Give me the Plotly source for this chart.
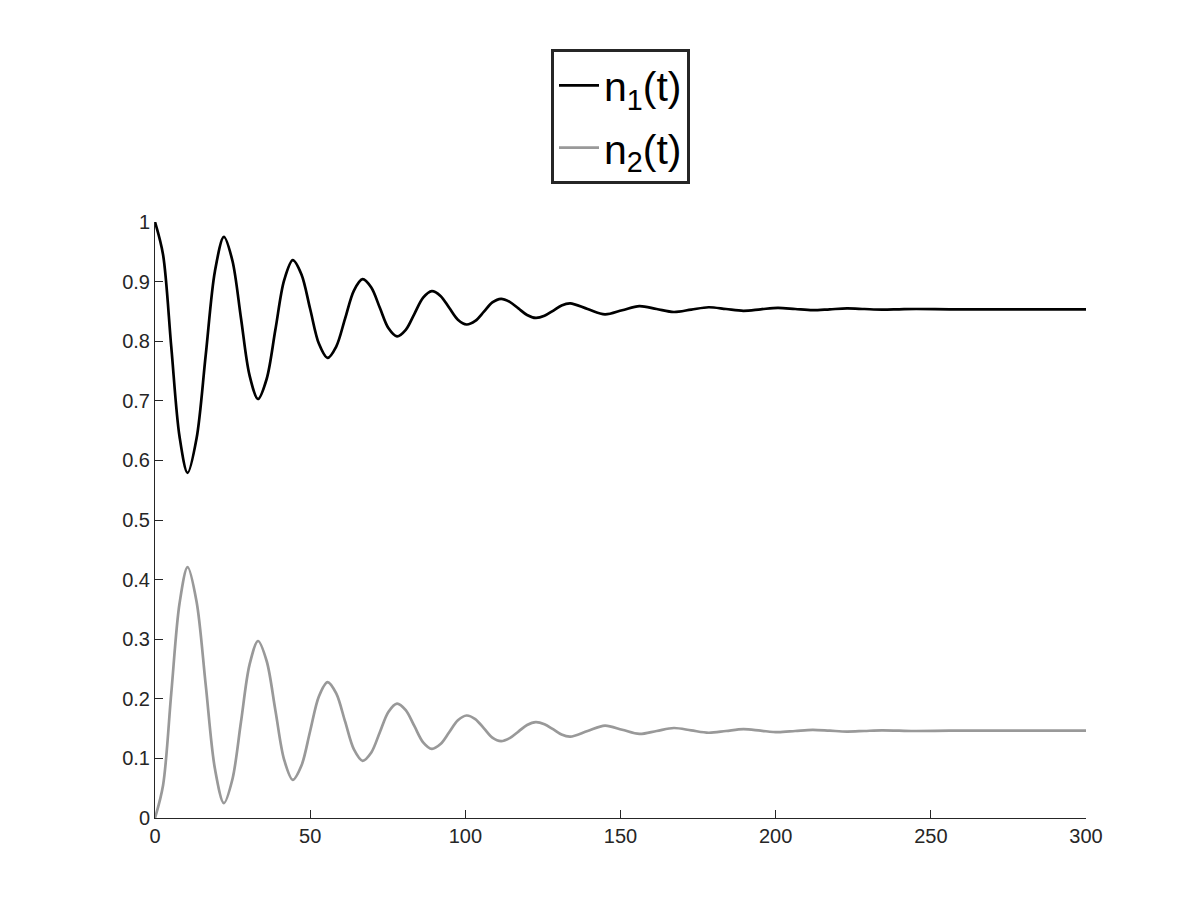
import plotly.graph_objects as go

# values (extrema, crossings and shoulders of the damped oscillation)
t = [0, 2.6, 5.25, 7.9, 10.5,
     13.4, 16.35, 19.3, 22.2,
     24.95, 27.7, 30.45, 33.2,
     36.0, 38.8, 41.6, 44.4,
     47.2, 50.0, 52.8, 55.6,
     58.4, 61.25, 64.1, 66.9,
     69.7, 72.45, 75.2, 78.0,
     80.8, 83.6, 86.4, 89.2,
     92.0, 94.8, 97.6, 100.4,
     103.2, 106.0, 108.7, 111.5,
     114.3, 117.1, 119.9, 122.7,
     125.5, 128.25, 131.0, 133.8,
     139.4, 145.0, 150.55, 156.1, 161.65, 167.2, 172.8, 178.4, 184.0, 189.6,
     195.15, 200.7, 206.3, 211.9, 217.45, 223.0, 228.6, 234.2, 239.75, 245.3,
     256, 267, 280, 300]

n1 = [1.0, 0.945, 0.790, 0.640, 0.579,
      0.637, 0.777, 0.917, 0.975,
      0.935, 0.839, 0.743, 0.703,
      0.737, 0.8195, 0.902, 0.936,
      0.912, 0.854, 0.796, 0.772,
      0.791, 0.838, 0.885, 0.904,
      0.890, 0.856, 0.822, 0.808,
      0.819, 0.846, 0.873, 0.884,
      0.876, 0.856, 0.836, 0.828,
      0.834, 0.8495, 0.865, 0.871,
      0.866, 0.855, 0.844, 0.839,
      0.8426, 0.851, 0.860, 0.8635,
      0.854, 0.845, 0.852, 0.859, 0.854, 0.849, 0.853, 0.857, 0.854, 0.851,
      0.8535, 0.856, 0.854, 0.852, 0.8535, 0.855, 0.854, 0.853, 0.8535, 0.854,
      0.8535, 0.8535, 0.8535, 0.8535]

n2 = [0.0, 0.055, 0.210, 0.360, 0.421,
      0.363, 0.223, 0.083, 0.025,
      0.065, 0.161, 0.257, 0.297,
      0.263, 0.1805, 0.098, 0.064,
      0.088, 0.146, 0.204, 0.228,
      0.209, 0.162, 0.115, 0.096,
      0.110, 0.144, 0.178, 0.192,
      0.181, 0.154, 0.127, 0.116,
      0.124, 0.144, 0.164, 0.172,
      0.166, 0.1505, 0.135, 0.129,
      0.134, 0.145, 0.156, 0.161,
      0.1574, 0.149, 0.140, 0.1365,
      0.146, 0.155, 0.148, 0.141, 0.146, 0.151, 0.147, 0.143, 0.146, 0.149,
      0.1465, 0.144, 0.146, 0.148, 0.1465, 0.145, 0.146, 0.147, 0.1465, 0.146,
      0.1465, 0.1465, 0.1465, 0.1465]

x_ticks = [0, 50, 100, 150, 200, 250, 300]
y_ticks = [0, 0.1, 0.2, 0.3, 0.4, 0.5, 0.6, 0.7, 0.8, 0.9, 1]
y_labels = ['0', '0.1', '0.2', '0.3', '0.4', '0.5', '0.6', '0.7', '0.8', '0.9', '1']

axcol = '#262626'

fig = go.Figure()
fig.add_trace(go.Scatter(x=t, y=n1, mode='lines', name='n<sub>1</sub>(t)', legendgroup='a',
                         line=dict(color='black', width=2.7, shape='spline', smoothing=0.9)))
fig.add_trace(go.Scatter(x=t, y=n2, mode='lines', name='n<sub>2</sub>(t)', legendgroup='b',
                         line=dict(color='rgb(153,153,153)', width=2.7, shape='spline', smoothing=0.9)))

# the page body adds 8px, so margins are shifted to keep the axes where the reference has them
fig.update_layout(
    width=1200, height=900,
    margin=dict(l=147, r=122, t=214, b=90),
    paper_bgcolor='white', plot_bgcolor='white',
    font=dict(family='Liberation Sans, Arial, Helvetica', color=axcol, size=20),
    legend=dict(x=0.5, y=1.29, xanchor='center', yanchor='top',
                traceorder='grouped', tracegroupgap=6, itemwidth=40,
                bgcolor='white', bordercolor=axcol, borderwidth=3,
                font=dict(size=41, color='black')),
    xaxis=dict(range=[0, 300], tickvals=x_ticks, ticks='inside', ticklen=8,
               tickcolor=axcol, showline=True, linecolor=axcol, linewidth=1,
               showgrid=False, zeroline=False, tickfont=dict(size=20, color=axcol)),
    yaxis=dict(range=[0, 1], tickvals=y_ticks, ticktext=y_labels, ticks='inside',
               ticklen=8, tickcolor=axcol, showline=True, linecolor=axcol, linewidth=1,
               showgrid=False, zeroline=False, tickfont=dict(size=20, color=axcol)),
)

fig.write_html("out.html")
